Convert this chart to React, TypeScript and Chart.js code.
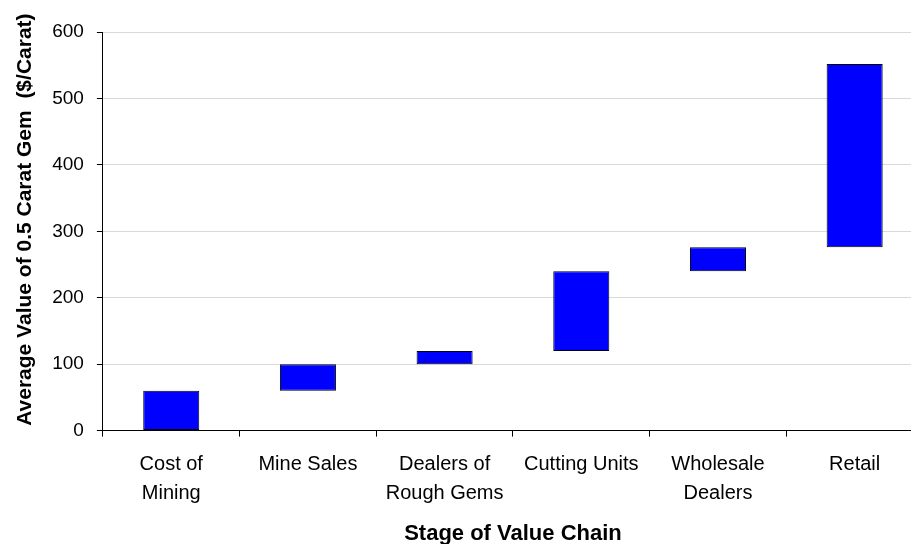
import React, { useEffect, useRef } from "react";
import { Chart, registerables } from "chart.js";

Chart.register(...registerables);

const stages: (string | string[])[] = [
  ["Cost of", "Mining"],
  "Mine Sales",
  ["Dealers of", "Rough Gems"],
  "Cutting Units",
  ["Wholesale", "Dealers"],
  "Retail",
];
const barStart = [0, 60, 100, 120, 240, 276];
const barEnd = [60, 100, 120, 240, 276, 552];
const yTicks = [0, 100, 200, 300, 400, 500, 600];

export default function App() {
  const ref = useRef<HTMLCanvasElement | null>(null);
  useEffect(() => {
    document.body.style.margin = "0";
    document.body.style.overflow = "hidden";
    const font = "'Liberation Sans', Arial, sans-serif";
    const chart = new Chart(ref.current!, {
      type: "bar",
      data: {
        labels: stages,
        datasets: [
          {
            data: barStart.map((s, i) => [s, barEnd[i]]),
            backgroundColor: "#0000ff",
            borderColor: "#000000",
            borderWidth: 1,
            borderSkipped: false,
            barPercentage: 0.41,
            categoryPercentage: 1,
          },
        ],
      },
      options: {
        animation: false,
        responsive: false,
        maintainAspectRatio: false,
        devicePixelRatio: 1,
        layout: { padding: { top: 32, right: 0, bottom: 0, left: 13 } },
        plugins: { legend: { display: false }, tooltip: { enabled: false } },
        scales: {
          x: {
            offset: true,
            grid: {
              offset: true,
              drawOnChartArea: false,
              tickLength: 6,
              tickColor: "#000",
            },
            border: { color: "#000", width: 1 },
            ticks: {
              color: "#000",
              font: { family: font, size: 20, lineHeight: 1.45 },
              padding: 13,
              maxRotation: 0,
              autoSkip: false,
            },
            title: {
              display: true,
              text: "Stage of Value Chain",
              color: "#000",
              font: { family: font, size: 22, weight: "bold", lineHeight: 1.2 },
              padding: { top: 0, bottom: 0 },
            },
          },
          y: {
            min: 0,
            max: 600,
            afterBuildTicks: (axis: any) => {
              axis.ticks = yTicks.map((v) => ({ value: v }));
            },
            grid: {
              color: "#d9d9d9",
              lineWidth: 1,
              tickLength: 6,
              tickColor: "#000",
            },
            border: { color: "#000", width: 1 },
            ticks: {
              color: "#000",
              font: { family: font, size: 19 },
              padding: 13,
            },
            title: {
              display: true,
              text: "    Average Value of 0.5 Carat Gem  ($/Carat)",
              color: "#000",
              font: { family: font, size: 21, weight: "bold", lineHeight: 1.2 },
              padding: { top: 0, bottom: 1 },
            },
          },
        },
      },
    });
    return () => chart.destroy();
  }, []);
  return (
    <div style={{ width: 911, height: 544, overflow: "hidden", background: "#fff" }}>
      <canvas ref={ref} width={923} height={547} style={{ display: "block" }} />
    </div>
  );
}
